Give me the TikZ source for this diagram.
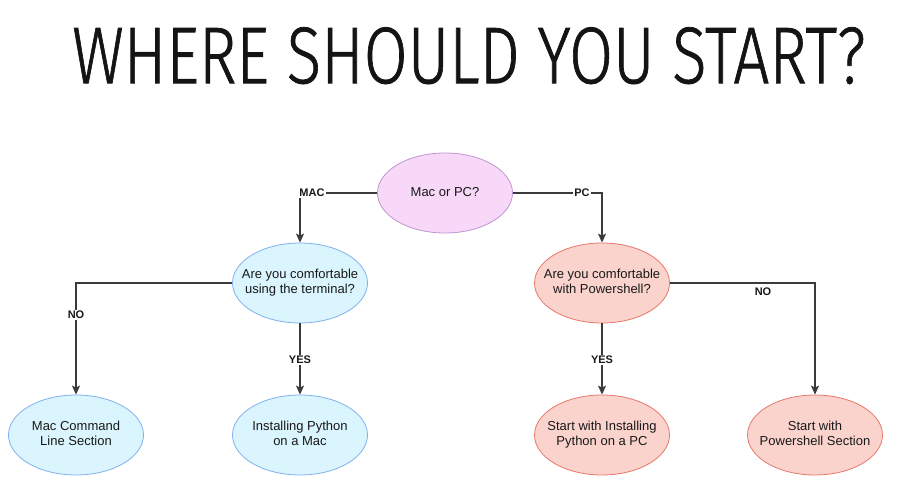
\documentclass[tikz,border=0pt]{standalone}
\usepackage{fontspec}
\setmainfont{Liberation Sans}
\newfontfamily\titlefont{Fira Sans Light}[FakeBold=1]
\usepackage{graphicx}
\usetikzlibrary{arrows.meta,shapes.geometric}
\definecolor{vfill}{HTML}{F7D8F8}
\definecolor{vline}{HTML}{BF94CF}
\definecolor{bfill}{HTML}{DAF5FD}
\definecolor{bline}{HTML}{7FB0EE}
\definecolor{rfill}{HTML}{FBD3CD}
\definecolor{rline}{HTML}{E5776B}
\definecolor{conn}{HTML}{3A3A3A}
\newcommand\ztxt[1]{\makebox[0pt][c]{\begin{tabular}{@{}c@{}}#1\end{tabular}}}
\tikzset{
  oval/.style={ellipse, draw, line width=0.8pt, minimum width=135pt, minimum height=80pt,
    inner sep=0pt, font=\fontsize{13}{15.5}\selectfont, text=black!90},
  violet/.style={oval, fill=vfill, draw=vline},
  blue/.style={oval, fill=bfill, draw=bline},
  red/.style={oval, fill=rfill, draw=rline},
  conn/.style={draw=conn, line width=1.1pt, -{Stealth[length=9pt,width=8pt,inset=2pt]}},
  lbl/.style={font=\bfseries\fontsize{11}{13}\selectfont, fill=white, inner sep=1.5pt, text=black!90}
}
\begin{document}
\begin{tikzpicture}[x=1pt,y=-1pt]
\useasboundingbox (0,0) rectangle (918,486);
\node[anchor=north west, inner sep=0pt, text=black!92] (title) at (72,27)
  {\resizebox{793pt}{56pt}{\titlefont WHERE SHOULD YOU START?}};
\node[violet] (q) at (445,193) {\ztxt{Mac or PC?}};
\node[blue] (term) at (300,283) {\ztxt{Are you comfortable\\using the terminal?}};
\node[red] (ps) at (602,283) {\ztxt{Are you comfortable\\with Powershell?}};
\node[blue] (maccl) at (76,435) {\ztxt{Mac Command\\Line Section}};
\node[blue] (macpy) at (300,435) {\ztxt{Installing Python\\on a Mac}};
\node[red] (pcpy) at (602,435) {\ztxt{Start with Installing\\Python on a PC}};
\node[red] (pssec) at (815,435) {\ztxt{Start with\\Powershell Section}};
\draw[conn] (q.west) -| (term.north);
\draw[conn] (q.east) -| (ps.north);
\draw[conn] (term.west) -| (maccl.north);
\draw[conn] (term.south) -- (macpy.north);
\draw[conn] (ps.south) -- (pcpy.north);
\draw[conn] (ps.east) -| (pssec.north);
\node[lbl] (lmac) at (312,193) {MAC};
\node[lbl] (lpc) at (582,193) {PC};
\node[lbl] (lno1) at (76,315) {NO};
\node[lbl] (lyes1) at (300,360) {YES};
\node[lbl] (lyes2) at (602,360) {YES};
\node[lbl, fill=none] (lno2) at (763,292) {NO};
\end{tikzpicture}
\end{document}
